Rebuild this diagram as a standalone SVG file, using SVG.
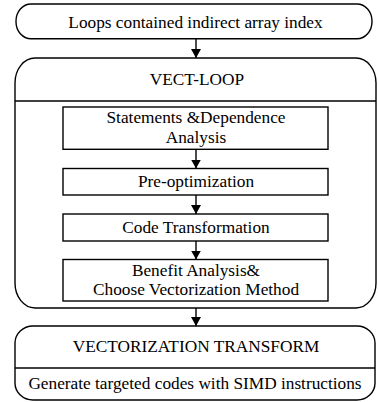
<svg xmlns="http://www.w3.org/2000/svg" width="378" height="402" viewBox="0 0 378 402">
<style>
.s{fill:#fff;stroke:#000;stroke-width:1.4}
.l{fill:none;stroke:#000;stroke-width:1.4}
text{font-family:"Liberation Serif","Times New Roman",serif;font-size:17.3px;fill:#000;text-anchor:middle}
</style>
<defs>
<marker id="ah" markerUnits="userSpaceOnUse" markerWidth="12" markerHeight="10" refX="9" refY="5" orient="auto">
<path d="M0,0 L9,5 L0,10 Z" fill="#000"/>
</marker>
</defs>
<rect width="378" height="402" fill="#fff"/>
<g id="loops">
<rect class="s" x="16" y="4" width="356" height="34.7" rx="15" ry="17"/>
<text x="195.5" y="27.5">Loops contained indirect array index</text>
</g>
<g id="vect-loop">
<rect class="s" x="15" y="58" width="361" height="250" rx="20" ry="25"/>
<line class="l" x1="15" y1="101" x2="376" y2="101"/>
<text x="197" y="85">VECT-LOOP</text>
</g>
<g id="statements">
<rect class="s" x="63" y="107" width="265" height="42.3"/>
<text x="196" y="123">Statements &amp;Dependence</text>
<text x="196" y="143">Analysis</text>
</g>
<g id="preopt">
<rect class="s" x="63" y="168.5" width="265" height="26.5"/>
<text x="196" y="187">Pre-optimization</text>
</g>
<g id="codetrans">
<rect class="s" x="63" y="214" width="265" height="27"/>
<text x="196" y="233">Code Transformation</text>
</g>
<g id="benefit">
<rect class="s" x="63" y="259.5" width="265" height="41.5"/>
<text x="196" y="275.5">Benefit Analysis&amp;</text>
<text x="196" y="295">Choose Vectorization Method</text>
</g>
<g id="vect-transform">
<rect class="s" x="15" y="326" width="360" height="74" rx="18" ry="17"/>
<line class="l" x1="15" y1="368" x2="375" y2="368"/>
<text x="196" y="352">VECTORIZATION TRANSFORM</text>
<text x="195" y="389">Generate targeted codes with SIMD instructions</text>
</g>
<g id="connectors">
<line class="l" x1="196" y1="38.7" x2="196" y2="58" marker-end="url(#ah)"/>
<line class="l" x1="196" y1="149.3" x2="196" y2="168.5" marker-end="url(#ah)"/>
<line class="l" x1="196" y1="195" x2="196" y2="214" marker-end="url(#ah)"/>
<line class="l" x1="196" y1="241" x2="196" y2="259.5" marker-end="url(#ah)"/>
<line class="l" x1="196" y1="308" x2="196" y2="326" marker-end="url(#ah)"/>
</g>
</svg>
